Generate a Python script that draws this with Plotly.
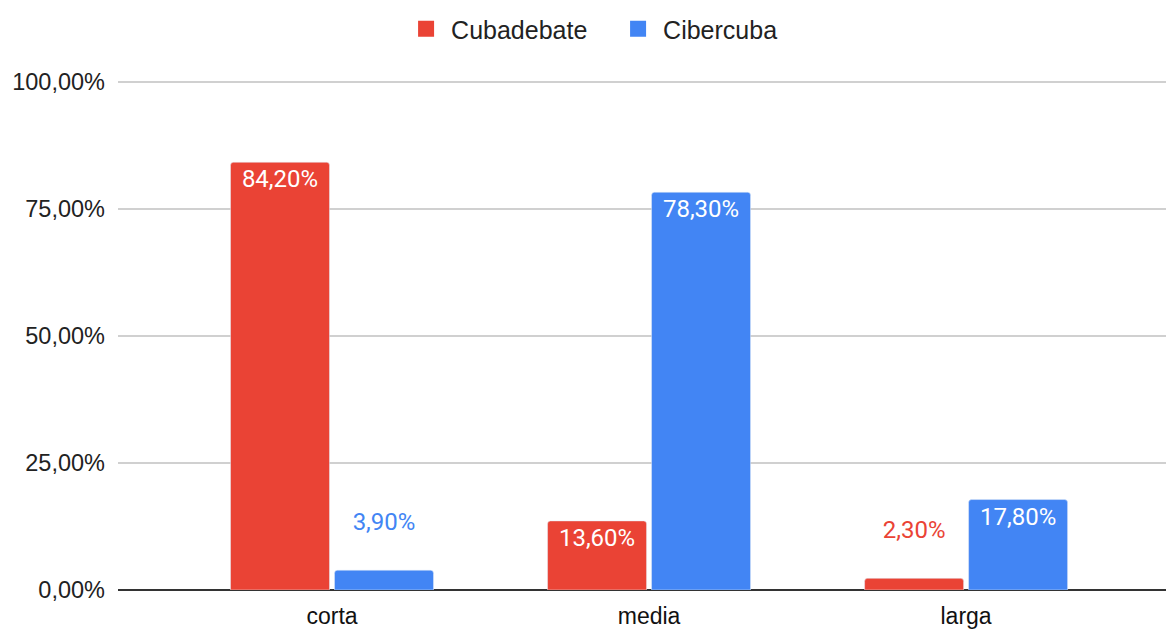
import plotly.graph_objects as go

categories = ["corta", "media", "larga"]
series_names = ["Cubadebate", "Cibercuba"]
cubadebate = [84.2, 13.6, 2.3]
cibercuba = [3.9, 78.3, 17.8]
colors = ["#EA4335", "#4285F4"]
y_ticks = [0, 25, 50, 75, 100]
y_ticktext = ["0,00%", "25,00%", "50,00%", "75,00%", "100,00%"]


def fmt(v):
    return f"{v:.2f}".replace(".", ",") + "%"


fig = go.Figure()
for name, vals, col in zip(series_names, [cubadebate, cibercuba], colors):
    inside = [v >= 10 for v in vals]
    fig.add_trace(go.Bar(
        x=categories, y=vals, name=name, marker_color=col,
        text=[fmt(v) if ins else fmt(v) + "<br> " for v, ins in zip(vals, inside)],
        textposition=["inside" if ins else "outside" for ins in inside],
        insidetextanchor="end",
        textfont=dict(family="Roboto", size=24,
                      color=["#ffffff" if ins else col for ins in inside]),
        showlegend=False, legendgroup=name, cliponaxis=False,
    ))
    fig.add_trace(go.Scatter(
        x=[None], y=[None], mode="markers", name=name, legendgroup=name,
        marker=dict(symbol="square", size=22, color=col),
    ))

fig.update_layout(
    width=1174, height=629,
    paper_bgcolor="white", plot_bgcolor="white",
    margin=dict(l=110, r=0, t=72, b=47),
    barmode="group", bargap=0.344, bargroupgap=0.048,
    barcornerradius=3,
    font=dict(family="Liberation Sans, Arial", size=23, color="#222222"),
    legend=dict(orientation="h", xref="container", yref="container",
                x=0.5154, xanchor="center", y=1 - 21 / 629, yanchor="middle",
                font=dict(size=25, color="#222222"), itemwidth=40,
                entrywidth=157),
    showlegend=True,
)
fig.update_xaxes(type="category", range=[-0.675, 2.681], showgrid=False,
                 showline=False, ticks="", ticklabelstandoff=10,
                 tickfont=dict(size=23, color="#111111"))
fig.update_yaxes(range=[0, 100.39], tickvals=y_ticks, ticktext=y_ticktext,
                 showgrid=True, gridcolor="#d0d0d0", gridwidth=2,
                 zeroline=True, zerolinecolor="#333333", zerolinewidth=2,
                 showline=False, ticks="", ticklabelstandoff=12,
                 tickfont=dict(size=23.5, color="#222222"))

fig.write_html("out.html")
